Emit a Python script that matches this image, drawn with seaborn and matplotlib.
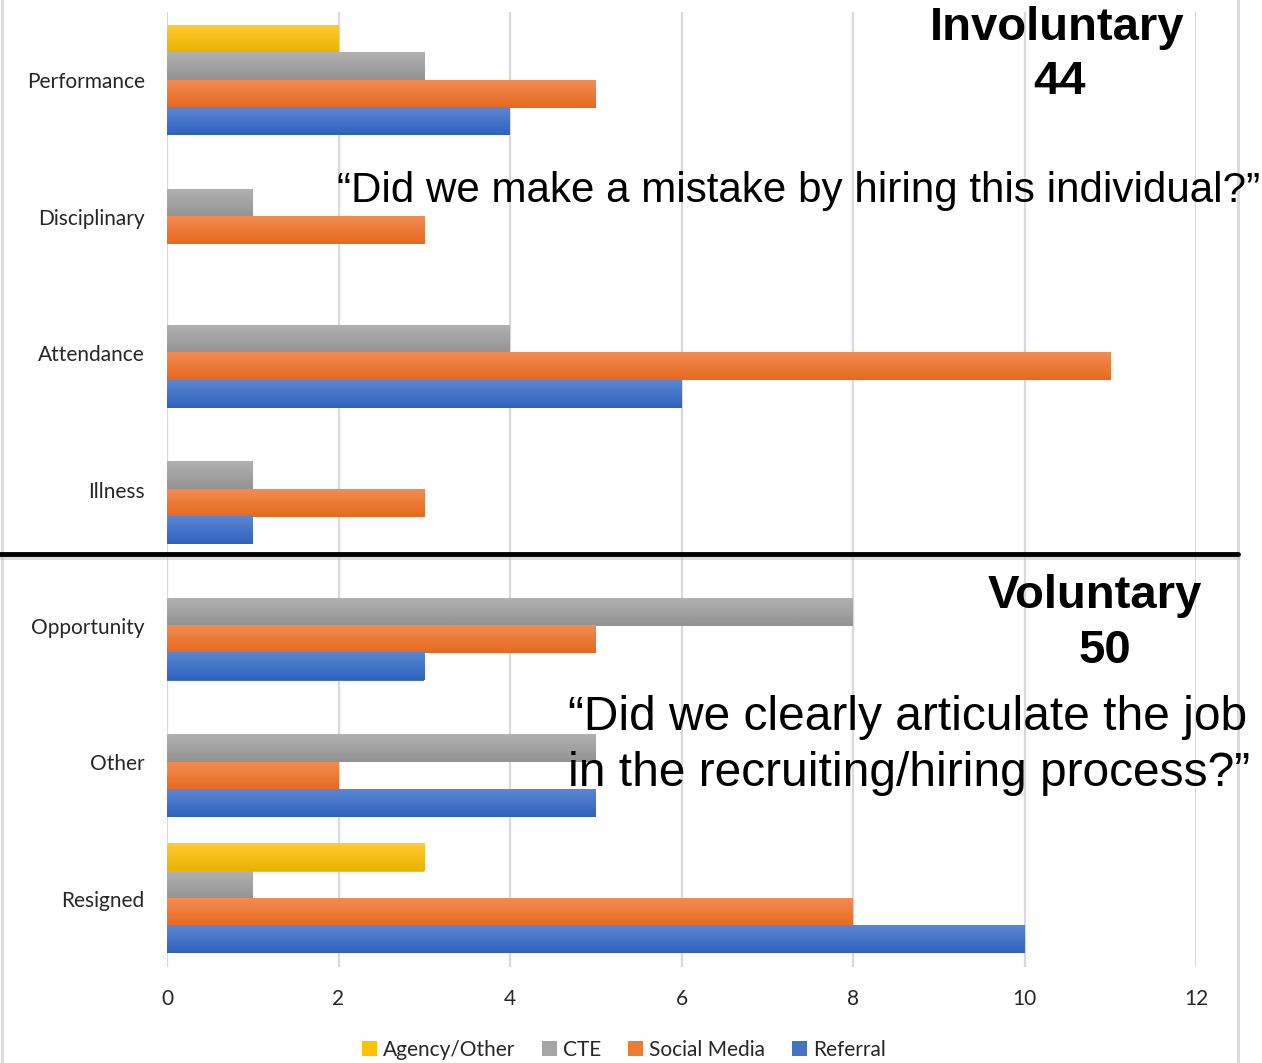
import pandas as pd
import seaborn as sns
import matplotlib.pyplot as plt
import numpy as np
from matplotlib.patches import Patch
from matplotlib.colors import LinearSegmentedColormap, to_rgb

categories = ["Performance", "Disciplinary", "Attendance", "Illness", "Opportunity", "Other", "Resigned"]
series = ["Agency/Other", "CTE", "Social Media", "Referral"]
agency = [2, 0, 0, 0, 0, 0, 3]
cte = [3, 1, 4, 1, 8, 5, 1]
social = [5, 3, 11, 3, 5, 2, 8]
referral = [4, 0, 6, 1, 3, 5, 10]

colors = ["#FFC000", "#A5A5A5", "#ED7D31", "#4472C4"]
# light (top) -> dark (bottom) for the office style gradient
shades = {
    "#FFC000": ("#FFCB33", "#E9B300"),
    "#A5A5A5": ("#B1B1B1", "#939393"),
    "#ED7D31": ("#F38C52", "#E66A1F"),
    "#4472C4": ("#5B86D4", "#2F62BD"),
}

df = pd.DataFrame({
    "Reason": categories * 4,
    "Source": [s for s in series for _ in categories],
    "Count": agency + cte + social + referral,
})

sns.set_style("white")
plt.rcParams["font.family"] = ["Lato", "DejaVu Sans"]

fig = plt.figure(figsize=(12.62, 10.63), dpi=100)
ax = fig.add_axes([167 / 1262, 1 - 967 / 1063, (1196 - 167) / 1262, 955 / 1063])

sns.barplot(data=df, y="Reason", x="Count", hue="Source", hue_order=series,
            order=categories, palette=colors, orient="h", width=0.8,
            legend=False, ax=ax, saturation=1, linewidth=0)

# overlay gradient on each bar
for p in ax.patches:
    w = p.get_width()
    if w <= 0:
        p.set_visible(False)
        continue
    fc = np.array(p.get_facecolor()[:3])
    key = min(shades, key=lambda c: sum((np.array(to_rgb(c)) - fc) ** 2))
    cmap = LinearSegmentedColormap.from_list("g", shades[key])
    y0 = p.get_y()
    h = p.get_height()
    grad = np.linspace(0, 1, 50).reshape(-1, 1)
    ax.imshow(grad, cmap=cmap, aspect="auto", extent=(p.get_x(), p.get_x() + w, y0 + h, y0),
              origin="upper", zorder=3, interpolation="bilinear")

ax.set_xlim(0, 12)
ax.set_ylim(6.5, -0.5)
ax.set_xticks(range(0, 13, 2))
ax.grid(axis="x", color="#D9D9D9", linewidth=1.6)
ax.grid(axis="y", visible=False)
ax.set_axisbelow(True)
for s in ax.spines.values():
    s.set_visible(False)
ax.set_xlabel("")
ax.set_ylabel("")
ax.tick_params(axis="x", length=0, pad=16, labelsize=15, labelcolor="#262626")
ax.tick_params(axis="y", length=0, pad=16, labelsize=15, labelcolor="#262626")

# chart border lines
fig.add_artist(plt.Line2D([2 / 1262, 2 / 1262], [0, 1], color="#D9D9D9", linewidth=2))
fig.add_artist(plt.Line2D([1238 / 1262, 1238 / 1262], [0, 1], color="#D9D9D9", linewidth=2))
fig.add_artist(plt.Line2D([0, 1238 / 1262], [1 - 557 / 1063, 1 - 557 / 1063], color="#BBBBBB", linewidth=3.5, alpha=0.5))
fig.add_artist(plt.Line2D([0, 1238 / 1262], [1 - 554 / 1063, 1 - 554 / 1063], color="black", linewidth=3.5))

# annotations
big = dict(ha="center", va="center", fontsize=34, fontweight="bold", family="Liberation Sans", color="black")
fig.text(1057 / 1262, 1 - 28 / 1063, "Involuntary", **big)
fig.text(1060 / 1262, 1 - 82 / 1063, "44", **big)
fig.text(1095 / 1262, 1 - 596 / 1063, "Voluntary", **big)
fig.text(1105 / 1262, 1 - 651 / 1063, "50", **big)
fig.text(337 / 1262, 1 - 191 / 1063, "\u201cDid we make a mistake by hiring this individual?\u201d",
         ha="left", va="center", fontsize=30.3, family="Liberation Sans", color="black")
fig.text(568 / 1262, 1 - 718 / 1063, "\u201cDid we clearly articulate the job",
         ha="left", va="center", fontsize=34.5, family="Liberation Sans", color="black")
fig.text(568 / 1262, 1 - 773 / 1063, "in the recruiting/hiring process?\u201d",
         ha="left", va="center", fontsize=34.5, family="Liberation Sans", color="black")

handles = [Patch(facecolor=c, edgecolor="none") for c in colors]
fig.legend(handles, series, loc="center", bbox_to_anchor=(624 / 1262, 1 - 1050 / 1063), ncol=4,
           frameon=False, fontsize=15, handlelength=0.7, handleheight=0.7, handletextpad=0.3,
           columnspacing=1.3, labelcolor="#262626")

fig.savefig("out.png", dpi=100)
